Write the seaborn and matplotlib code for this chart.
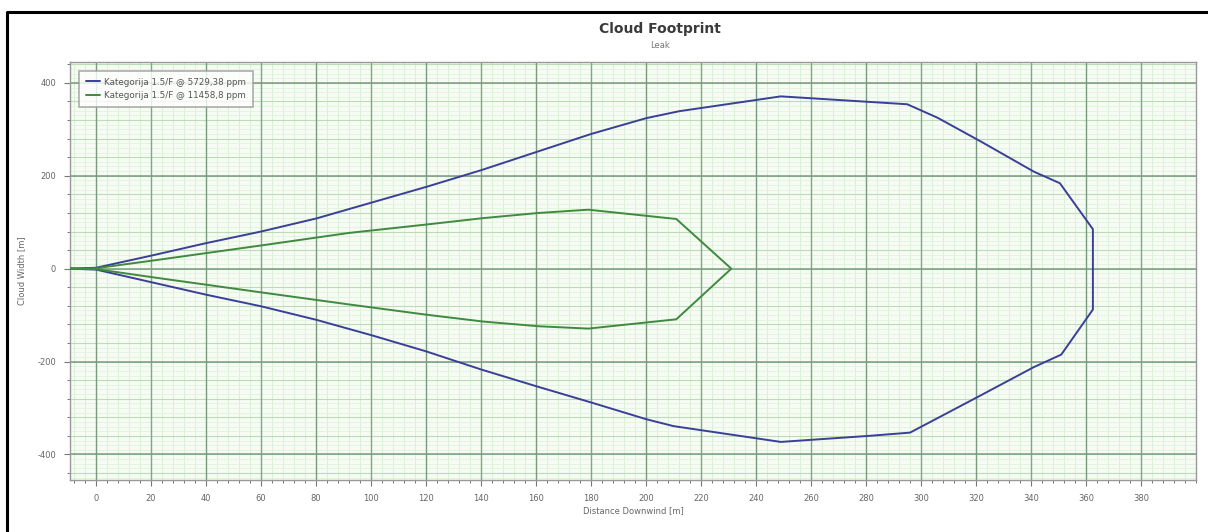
import numpy as np
import pandas as pd
import matplotlib
matplotlib.use("Agg")
import matplotlib.pyplot as plt
from matplotlib.ticker import MultipleLocator, FixedLocator
from matplotlib.lines import Line2D
import seaborn as sns

# Outer contour (5729,38 ppm), traced as a closed path
outer_x = [-10, 0, 20, 40, 60, 80, 100, 120, 140, 160, 180, 200, 212, 249, 295, 306, 322, 341, 350.5, 362.5,
           362.5, 351, 341, 321, 296, 281, 249, 210, 200, 180, 160, 140, 120, 100, 80, 60, 40, 20, 0, -10]
outer_y = [0, 2, 28, 55, 80, 108, 142, 176, 212, 251, 290, 324, 339, 371, 354, 325, 273, 209, 184, 85,
           -88, -185, -212, -275, -353, -360, -373, -339, -324, -288, -253, -217, -178, -143, -110, -81, -56, -29, -2, 0]

# Inner contour (11458,8 ppm)
inner_x = [-10, 0, 20, 60, 92, 120, 141, 161, 179, 211, 231,
           211, 179, 161, 141, 120, 92, 60, 20, 0, -10]
inner_y = [0, 1, 17, 50, 77, 95, 109, 120, 127, 107, 0,
           -109, -129, -124, -114, -99, -77, -51, -18, -1, 0]

series_labels = ["Kategorija 1.5/F @ 5729,38 ppm", "Kategorija 1.5/F @ 11458,8 ppm"]
series_colors = ["#3a3f98", "#3f8a3f"]

x_tick_values = list(range(0, 381, 20))
y_tick_values = [-400, -200, 0, 200, 400]

sns.set_theme(style="white")
plt.rcParams['font.family'] = ['DejaVu Sans']
plt.rcParams['axes.unicode_minus'] = False

fig = plt.figure(figsize=(12.08, 5.32), dpi=100)
ax = fig.add_axes([70 / 1208, 1 - 480 / 532, (1196 - 70) / 1208, (480 - 62) / 532])
ax.set_facecolor("#f6fbf4")

xmin, xmax = -9.5, 400
ymin, ymax = -455, 445
ax.set_xlim(xmin, xmax)
ax.set_ylim(ymin, ymax)

# Fine background grid
for xv in np.arange(-8, xmax, 4):
    ax.axvline(xv, color="#dcefd8", lw=0.7, zorder=0)
for yv in np.arange(-450, ymax, 10):
    ax.axhline(yv, color="#e2f2de", lw=0.6, zorder=0)
for yv in np.arange(-440, ymax, 40):
    ax.axhline(yv, color="#bcdcb6", lw=0.8, zorder=0)
# Major grid
for i, xv in enumerate(np.arange(0, xmax, 20)):
    ax.axvline(xv, color="#7a9a80" if i % 2 == 0 else "#78ab80", lw=1.0, zorder=0.5)
for yv in np.arange(-400, ymax, 200):
    ax.axhline(yv, color="#7a9a80", lw=1.1, zorder=0.5)

outer = pd.DataFrame({"x": outer_x, "y": outer_y})
inner = pd.DataFrame({"x": inner_x, "y": inner_y})
sns.lineplot(data=outer, x="x", y="y", sort=False, estimator=None, color=series_colors[0],
             lw=1.4, ax=ax, label=series_labels[0], zorder=3)
sns.lineplot(data=inner, x="x", y="y", sort=False, estimator=None, color=series_colors[1],
             lw=1.4, ax=ax, label=series_labels[1], zorder=3)

ax.xaxis.set_major_locator(FixedLocator(x_tick_values))
ax.xaxis.set_minor_locator(MultipleLocator(4))
ax.yaxis.set_major_locator(FixedLocator(y_tick_values))
ax.yaxis.set_minor_locator(MultipleLocator(40))
ax.tick_params(axis="both", which="major", direction="out", length=4, width=0.8,
               color="#777777", labelsize=6, labelcolor="#666666", bottom=True, left=True, pad=6)
ax.tick_params(axis="both", which="minor", direction="out", length=2.5, width=0.7,
               color="#777777", bottom=True, left=True)

for s in ax.spines.values():
    s.set_color("#999999")
    s.set_linewidth(1.0)

ax.set_xlabel("Distance Downwind [m]", fontsize=6, color="#666666", labelpad=2)
ax.set_ylabel("Cloud Width [m]", fontsize=6, color="#666666", labelpad=8)

leg = ax.legend(loc="upper left", bbox_to_anchor=(0.004, 0.99), fontsize=6.3, frameon=True,
                fancybox=False, edgecolor="#999999", handlelength=1.6, borderpad=0.8,
                labelspacing=0.5, handletextpad=0.5)
leg.get_frame().set_linewidth(1.2)
leg.get_frame().set_facecolor("white")
for t in leg.get_texts():
    t.set_color("#555555")

fig.text(660 / 1208, 1 - 29 / 532, "Cloud Footprint", ha="center", va="center",
         fontsize=10, fontweight="bold", color="#3a3a3a")
fig.text(660 / 1208, 1 - 45 / 532, "Leak", ha="center", va="center",
         fontsize=6, color="#777777")

# Page frame (top and left edges)
fig.lines.append(Line2D([7 / 1208, 7 / 1208, 1.0], [0.0, 1 - 12 / 532, 1 - 12 / 532],
                        transform=fig.transFigure, color="black", lw=2.2))

fig.savefig("out.png", dpi=100, facecolor="white")
